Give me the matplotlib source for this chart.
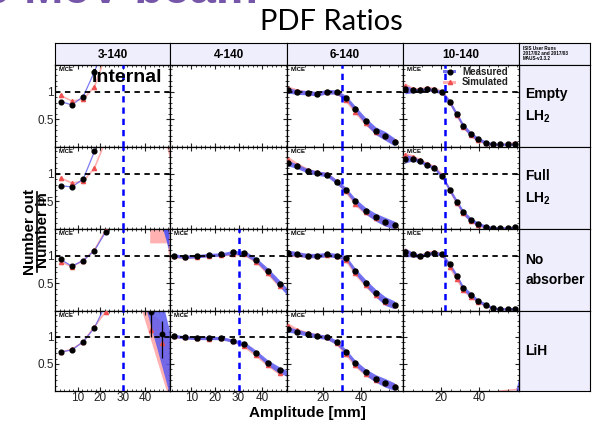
import matplotlib.pyplot as plt
import numpy as np

plt.rcParams['font.family'] = ['Liberation Sans', 'DejaVu Sans']

# column headers / row labels
columns = ["3-140", "4-140", "6-140", "10-140"]
rows = ["Empty\nLH$_\\mathregular{2}$", "Full\nLH$_\\mathregular{2}$", "No\nabsorber", "LiH"]

# amplitude bin centres [mm]
amp_3 = [2.5, 7.5, 12.5, 17.5, 22.5]
amp_4 = [2.5, 7.5, 12.5, 17.5, 22.5, 27.5, 32.5, 37.5, 42.5, 47.5]
amp_6 = [1, 6, 11.5, 16.5, 22, 27, 32, 37, 42.5, 48, 53, 58]
amp_10 = [1, 5, 9, 12.5, 16.5, 20.5, 24.5, 28.3, 31.7, 35.8, 39.6, 43.7, 47.5, 51.1, 55.4, 58.9]

# 3-140
meas_empty_3 = [0.82, 0.76, 0.91, 1.36, 1.90]
sim_empty_3 = [0.93, 0.83, 0.86, 1.09, 1.65]
meas_full_3 = [0.78, 0.76, 0.90, 1.40, 2.00]
sim_full_3 = [0.92, 0.83, 0.86, 1.10, 1.60]
meas_none_3 = [0.93, 0.81, 0.91, 1.09, 1.43]
sim_none_3 = [0.89, 0.80, 0.91, 1.10, 1.46]
meas_lih_3 = [0.72, 0.76, 0.91, 1.17, 1.60]
sim_lih_3 = [0.72, 0.77, 0.91, 1.19, 1.47]
# 3-140 LiH high-amplitude points
lih_tail_amp = [42.5, 47.5]
lih_tail_meas = [1.47, 1.05]
lih_tail_lo = [1.00, 0.61]
lih_tail_hi = [1.60, 1.29]
lih_tail_sim = [1.12, 0.88]

# 4-140
meas_none_4 = [1.00, 0.98, 0.99, 1.01, 1.02, 1.06, 1.05, 0.92, 0.72, 0.49]
sim_none_4 = [0.99, 0.97, 0.98, 1.00, 1.01, 1.03, 1.03, 0.89, 0.68, 0.45]
meas_lih_4 = [1.02, 0.99, 0.98, 0.98, 0.98, 0.93, 0.87, 0.71, 0.52, 0.38]
sim_lih_4 = [1.01, 0.99, 0.98, 0.97, 0.98, 0.93, 0.83, 0.66, 0.49, 0.33]
err_meas_4 = [0.03, 0.03, 0.03, 0.03, 0.03, 0.03, 0.04, 0.04, 0.05, 0.06]
err_sim_4 = [0.03, 0.02, 0.02, 0.02, 0.02, 0.02, 0.03, 0.03, 0.04, 0.04]

# 6-140
meas_empty_6 = [1.02, 0.99, 0.98, 0.96, 1.00, 0.99, 0.89, 0.69, 0.47, 0.29, 0.20, 0.09]
sim_empty_6 = [1.04, 1.01, 0.98, 0.97, 1.00, 0.99, 0.85, 0.64, 0.43, 0.27, 0.19, 0.10]
meas_full_6 = [1.19, 1.13, 1.05, 1.01, 0.98, 0.85, 0.71, 0.50, 0.33, 0.21, 0.13, 0.07]
sim_full_6 = [1.25, 1.16, 1.07, 1.02, 0.99, 0.86, 0.68, 0.46, 0.30, 0.20, 0.13, 0.08]
meas_none_6 = [1.05, 1.03, 1.00, 1.00, 1.02, 1.00, 0.96, 0.72, 0.51, 0.32, 0.18, 0.11]
sim_none_6 = [1.04, 1.02, 1.00, 1.00, 1.01, 1.00, 0.92, 0.68, 0.47, 0.29, 0.17, 0.10]
meas_lih_6 = [1.14, 1.10, 1.05, 1.02, 0.99, 0.90, 0.73, 0.52, 0.35, 0.23, 0.15, 0.08]
sim_lih_6 = [1.20, 1.12, 1.07, 1.03, 0.99, 0.88, 0.69, 0.48, 0.32, 0.21, 0.14, 0.10]
err_meas_6 = [0.05, 0.04, 0.04, 0.04, 0.04, 0.04, 0.04, 0.05, 0.06, 0.07, 0.08, 0.07]
err_sim_6 = [0.06, 0.04, 0.03, 0.03, 0.03, 0.03, 0.04, 0.04, 0.04, 0.04, 0.04, 0.04]

# 10-140
meas_empty_10 = [1.04, 1.02, 1.02, 1.05, 1.02, 0.99, 0.81, 0.59, 0.38, 0.23, 0.14, 0.08, 0.05, 0.05, 0.05, 0.05]
sim_empty_10 = [1.10, 1.04, 1.04, 1.07, 1.05, 1.00, 0.82, 0.57, 0.36, 0.21, 0.12, 0.07, 0.05, 0.05, 0.06, 0.08]
meas_full_10 = [1.27, 1.27, 1.22, 1.16, 1.10, 0.95, 0.71, 0.49, 0.30, 0.16, 0.09, 0.04, 0.02, 0.02, 0.02, 0.03]
sim_full_10 = [1.33, 1.30, 1.24, 1.18, 1.12, 0.98, 0.70, 0.47, 0.28, 0.15, 0.08, 0.04, 0.02, 0.02, 0.02, 0.04]
meas_none_10 = [1.06, 1.02, 0.99, 1.03, 1.05, 1.02, 0.84, 0.63, 0.41, 0.29, 0.18, 0.11, 0.05, 0.04, 0.04, 0.04]
sim_none_10 = [1.08, 1.02, 1.00, 1.05, 1.07, 1.02, 0.80, 0.58, 0.38, 0.26, 0.16, 0.10, 0.05, 0.04, 0.04, 0.04]
err_meas_10 = [0.08, 0.04, 0.03, 0.03, 0.03, 0.03, 0.04, 0.04, 0.04, 0.04, 0.03, 0.03, 0.02, 0.02, 0.02, 0.02]
err_sim_10 = [0.06, 0.04, 0.03, 0.03, 0.03, 0.03, 0.04, 0.04, 0.03, 0.03, 0.03, 0.02, 0.02, 0.02, 0.02, 0.03]

xlims = [(0, 51), (1, 50.5), (0.5, 62.5), (0, 61)]
cut_lines = [30, 30, 30, 22]

BLUE = "#5a5af0"
PINK = "#ffb0b0"
RED = "#f05050"
LAV = "#eeeefc"

W, H = 592, 429
fig = plt.figure(figsize=(W / 100, H / 100), dpi=100)


def px_ax(x0, y0, x1, y1, **kw):
    return fig.add_axes([x0 / W, 1 - y1 / H, (x1 - x0) / W, (y1 - y0) / H], **kw)


col_edges = [55, 170, 287, 403, 519, 590]
row_edges = [65, 147, 229, 311, 391]

# title and slide header (cut off by the top edge)
fig.text(258 / W, 1 - 3 / H, "140 MeV beam", ha="right", va="baseline", fontsize=34,
         fontweight="bold", color="#7656a8")
fig.text(331 / W, 1 - 30 / H, "PDF Ratios", ha="center", va="baseline", fontsize=21,
         family=["Lato", "DejaVu Sans"])

# header row
for i, name in enumerate(columns):
    h = px_ax(col_edges[i], 43, col_edges[i + 1], 65)
    h.set_facecolor(LAV)
    h.set_xticks([]); h.set_yticks([])
    h.text(0.5, 0.45, name, ha="center", va="center", fontsize=8.5, fontweight="bold",
           transform=h.transAxes)
h = px_ax(519, 43, 590, 65)
h.set_facecolor(LAV)
h.set_xticks([]); h.set_yticks([])
h.text(0.05, 0.88, "ISIS User Runs\n2017/02 and 2017/03\nMAUS-v3.3.2", ha="left", va="top",
       fontsize=3.3, fontweight="bold", linespacing=1.1, transform=h.transAxes)

# row labels
for j, name in enumerate(rows):
    r = px_ax(519, row_edges[j], 590, row_edges[j + 1])
    r.set_facecolor(LAV)
    r.set_xticks([]); r.set_yticks([])
    r.text(0.09, 0.5, name, ha="left", va="center", fontsize=10, fontweight="bold",
           linespacing=1.6, transform=r.transAxes)

axes = [[None] * 4 for _ in range(4)]
for j in range(4):
    for i in range(4):
        ax = px_ax(col_edges[i], row_edges[j], col_edges[i + 1], row_edges[j + 1])
        axes[j][i] = ax
        ax.set_xlim(*xlims[i])
        ax.set_ylim(0, 1.48)
        ax.set_yticks([0.5, 1])
        ax.set_yticks(np.arange(0.1, 1.45, 0.1), minor=True)
        if i < 2:
            ax.set_xticks([10, 20, 30, 40])
            ax.set_xticks(np.arange(2, 51, 2), minor=True)
        else:
            ax.set_xticks([20, 40])
            ax.set_xticks(np.arange(5, 61, 5), minor=True)
        ax.tick_params(which="both", direction="in", top=True, right=True, labelsize=8.5,
                       colors="#222222", pad=1)
        ax.tick_params(which="major", length=3, width=0.8)
        ax.tick_params(which="minor", length=1.5, width=0.6)
        if i == 0:
            ax.set_yticklabels(["0.5", "1"])
        else:
            ax.set_yticklabels([])
        if j < 3:
            ax.set_xticklabels([])
        for s in ax.spines.values():
            s.set_linewidth(0.9)

empty_panels = [(0, 1), (1, 1), (3, 3)]


def decorate(ax, i, mice=True):
    ax.axhline(1, color="black", ls=(0, (3, 2.5)), lw=1.3, zorder=5)
    ax.axvline(cut_lines[i], color="blue", ls=(0, (2.5, 2)), lw=1.8, zorder=5)
    if mice:
        ax.text(0.03, 0.975, "MICE", ha="left", va="top", fontsize=4.3, fontweight="bold",
                transform=ax.transAxes, zorder=6)


def thin(ax, x, meas, sim):
    ax.plot(x, sim, color=PINK, lw=1.2, zorder=2)
    ax.plot(x, sim, ls="none", marker="^", ms=3, color=RED, zorder=3)
    ax.plot(x, meas, color=BLUE, lw=0.9, alpha=0.8, zorder=2)
    ax.plot(x, meas, ls="none", marker="o", ms=3.4, color="black", zorder=4)


def banded(ax, x, meas, sim, em, es):
    x = np.array(x); meas = np.array(meas); sim = np.array(sim)
    em = np.array(em); es = np.array(es)
    ax.fill_between(x, sim - es, sim + es, color=PINK, lw=0, zorder=1)
    ax.fill_between(x, meas - em, meas + em, color=BLUE, alpha=0.85, lw=0, zorder=2)
    ax.plot(x, sim, ls="none", marker="^", ms=3, color=RED, zorder=3)
    ax.plot(x, meas, ls="none", marker="o", ms=3.6, color="black", zorder=4)


# 3-140 column
thin(axes[0][0], amp_3, meas_empty_3, sim_empty_3)
thin(axes[1][0], amp_3, meas_full_3, sim_full_3)
thin(axes[2][0], amp_3, meas_none_3, sim_none_3)
thin(axes[3][0], amp_3, meas_lih_3, sim_lih_3)
axes[1][0].fill_between([49.5, 51], [1.48, 1.23], [1.6, 1.6], color=PINK, lw=0)
axes[2][0].fill_between([42, 49.6, 51], [1.23, 1.23, 0.8], [1.6, 1.6, 1.6], color=PINK, lw=0)
axes[2][0].fill_between([47.8, 50.5], [1.48, 1.1], [1.6, 1.6], color=BLUE, lw=0)
a = axes[3][0]
a.fill_between([38.5, 47.9, 51], [1.48, 0.2, -0.2], [1.6, 1.25, 0.85], color=PINK, lw=0, zorder=1)
a.fill_between([40.6, 47.9, 51], [1.48, 0.38, -0.1], [1.6, 1.6, 1.08], color=BLUE, alpha=0.85,
               lw=0, zorder=2)
a.plot(lih_tail_amp, lih_tail_sim, ls="none", marker="^", ms=3, color=RED, zorder=3)
a.vlines(lih_tail_amp, lih_tail_lo, lih_tail_hi, color="black", lw=0.9, zorder=4)
a.plot(lih_tail_amp, lih_tail_meas, ls="none", marker="o", ms=3.2, color="black", zorder=4)

# 4-140 column
banded(axes[2][1], amp_4, meas_none_4, sim_none_4, err_meas_4, err_sim_4)
banded(axes[3][1], amp_4, meas_lih_4, sim_lih_4, err_meas_4, err_sim_4)
axes[2][1].fill_between([47.5, 50.5], [0.43, 0.29], [0.55, 0.41], color=BLUE, alpha=0.85, lw=0)
axes[3][1].fill_between([47.5, 50.5], [0.33, 0.27], [0.44, 0.38], color=BLUE, alpha=0.85, lw=0)

# 6-140 column
banded(axes[0][2], amp_6, meas_empty_6, sim_empty_6, err_meas_6, err_sim_6)
banded(axes[1][2], amp_6, meas_full_6, sim_full_6, err_meas_6, err_sim_6)
banded(axes[2][2], amp_6, meas_none_6, sim_none_6, err_meas_6, err_sim_6)
banded(axes[3][2], amp_6, meas_lih_6, sim_lih_6, err_meas_6, err_sim_6)

# 10-140 column
banded(axes[0][3], amp_10, meas_empty_10, sim_empty_10, err_meas_10, err_sim_10)
banded(axes[1][3], amp_10, meas_full_10, sim_full_10, err_meas_10, err_sim_10)
banded(axes[2][3], amp_10, meas_none_10, sim_none_10, err_meas_10, err_sim_10)
axes[3][3].fill_between([50, 59, 61], [0.0, 0.02, 0.02], [0.02, 0.05, 0.1], color=PINK, lw=0)
axes[3][3].fill_between([59.5, 61], [0, 0], [0.05, 0.25], color=BLUE, alpha=0.85, lw=0)

for j in range(4):
    for i in range(4):
        if (j, i) not in empty_panels:
            decorate(axes[j][i], i)

# legend
lg = axes[0][3]
lg.fill_between([21, 28], [1.33, 1.33], [1.39, 1.39], color=BLUE, alpha=0.85, lw=0, zorder=6)
lg.plot([24.5], [1.36], marker="o", ms=3.4, color="black", zorder=7)
lg.fill_between([21, 28], [1.14, 1.14], [1.20, 1.20], color=PINK, lw=0, zorder=6)
lg.plot([24.5], [1.17], marker="^", ms=3, color=RED, zorder=7)
lg.text(31, 1.36, "Measured", fontsize=7, fontweight="bold", va="center", color="#222222")
lg.text(31, 1.17, "Simulated", fontsize=7, fontweight="bold", va="center", color="#222222")

# "Internal" watermark
axes[0][0].text(0.63, 0.85, "Internal", ha="center", va="center", fontsize=14,
                fontweight="bold", transform=axes[0][0].transAxes, zorder=8)

# axis titles
fig.text(30 / W, 1 - 232 / H, "Number out", rotation=90, ha="center", va="center",
         fontsize=11, fontweight="bold")
fig.text(43 / W, 1 - 230 / H, "Number in", rotation=90, ha="center", va="center",
         fontsize=11, fontweight="bold")
fig.add_artist(plt.Line2D([37 / W, 37 / W], [1 - 272 / H, 1 - 192 / H], color="black", lw=1.2))
fig.text(307 / W, 1 - 413 / H, "Amplitude [mm]", ha="center", va="center", fontsize=11,
         fontweight="bold")

fig.savefig("out.png", dpi=100)
